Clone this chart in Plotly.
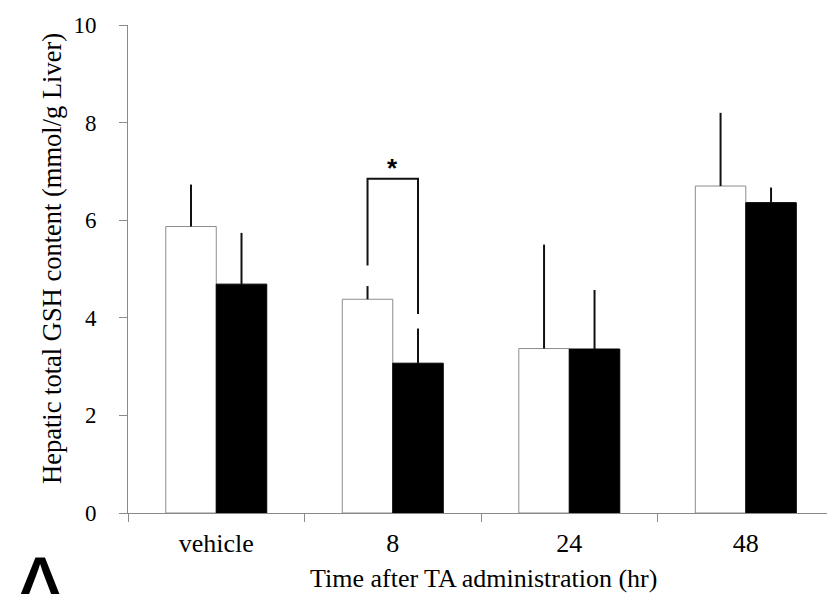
import plotly.graph_objects as go

# Hepatic total GSH content after TA administration
categories = ["vehicle", "8", "24", "48"]
control_mean = [5.87, 4.38, 3.37, 6.70]
control_err = [0.86, 0.27, 2.13, 1.50]
treated_mean = [4.69, 3.07, 3.36, 6.36]
treated_err = [1.05, 0.71, 1.21, 0.31]
y_ticks = [0, 2, 4, 6, 8, 10]

SERIF = "Liberation Serif"
AXIS_GRAY = "#8a8a8a"

W, H = 827, 594
M_L, M_R, M_T, M_B = 128, 0, 25, 81
PW, PH = W - M_L - M_R, H - M_T - M_B


def px_x(px):
    return (px - M_L) / PW


def px_y(py):
    return (H - M_B - py) / PH


fig = go.Figure()
fig.add_trace(go.Bar(
    x=categories, y=control_mean,
    marker=dict(color="white", line=dict(color="#8c8c8c", width=1)),
    error_y=dict(type="data", symmetric=False, array=control_err,
                 arrayminus=[0] * len(control_err),
                 color="#111111", thickness=2, width=0),
))
fig.add_trace(go.Bar(
    x=categories, y=treated_mean,
    marker=dict(color="black", line=dict(color="black", width=1)),
    error_y=dict(type="data", symmetric=False, array=treated_err,
                 arrayminus=[0] * len(treated_err),
                 color="#111111", thickness=2, width=0),
))

# significance bracket over the 8 h group
off = 0.143
bracket_top = 6.85
fig.add_shape(type="path", xref="x", yref="y",
              path=f"M {1 - off},5.07 L {1 - off},{bracket_top} "
                   f"L {1 + off},{bracket_top} L {1 + off},4.08",
              line=dict(color="#111111", width=2))
fig.add_annotation(x=1, y=7.08, xref="x", yref="y", text="<b>*</b>",
                   showarrow=False, yanchor="middle",
                   font=dict(family="Liberation Sans", size=26, color="black"))

# axis titles and panel letter
fig.add_annotation(text="Hepatic total GSH content (mmol/g Liver)",
                   x=px_x(52), y=px_y(259), xref="paper", yref="paper",
                   textangle=-90, showarrow=False,
                   xanchor="center", yanchor="middle",
                   font=dict(family=SERIF, size=26.5, color="black"))
fig.add_annotation(text="Time after TA administration (hr)",
                   x=px_x(483), y=px_y(578), xref="paper", yref="paper",
                   showarrow=False, xanchor="center", yanchor="middle",
                   font=dict(family=SERIF, size=26, color="black"))
fig.add_annotation(text="A",
                   x=px_x(40), y=px_y(537), xref="paper", yref="paper",
                   showarrow=False, xanchor="center", yanchor="top",
                   font=dict(family="Liberation Sans", size=90, color="black"))

fig.update_layout(
    width=W, height=H,
    margin=dict(l=M_L, r=M_R, t=M_T, b=M_B),
    paper_bgcolor="white", plot_bgcolor="white",
    showlegend=False,
    barmode="group", bargap=0.428, bargroupgap=0,
    font=dict(family=SERIF, color="black"),
    xaxis=dict(
        type="category", range=[-0.5, 3.46],
        showline=True, linecolor=AXIS_GRAY, linewidth=1,
        ticks="outside", tickson="boundaries", ticklen=8,
        tickcolor=AXIS_GRAY, tickwidth=1,
        showgrid=False, tickfont=dict(family=SERIF, size=26),
        ticklabelstandoff=7,
    ),
    yaxis=dict(
        range=[0, 10], tickvals=y_ticks,
        showline=True, linecolor=AXIS_GRAY, linewidth=1,
        ticks="outside", ticklen=8, tickcolor=AXIS_GRAY, tickwidth=1,
        showgrid=False, zeroline=False,
        tickfont=dict(family=SERIF, size=23),
        ticklabelstandoff=18,
    ),
)

fig.write_html("out.html")
